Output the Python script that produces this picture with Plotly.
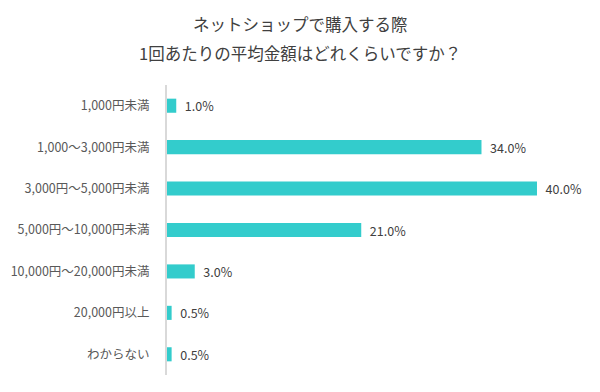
import plotly.graph_objects as go

categories = ["1,000円未満", "1,000〜3,000円未満", "3,000円〜5,000円未満",
              "5,000円〜10,000円未満", "10,000円〜20,000円未満", "20,000円以上", "わからない"]
values = [1.0, 34.0, 40.0, 21.0, 3.0, 0.5, 0.5]
title_lines = ["ネットショップで購入する際", "1回あたりの平均金額はどれくらいですか？"]

FONT = "Noto Sans CJK JP"
W, H = 600, 392
OFF = 8  # page body margin offset
L, R, T, B = 167 - OFF, 20 + OFF, 85 - OFF, 17 + OFF
ph = H - T - B
pw = W - L - R

fig = go.Figure(go.Bar(
    x=values, y=categories, orientation="h",
    marker=dict(color="#33CCCC", line=dict(width=0)),
    text=[f"{v:.1f}%" for v in values],
    texttemplate="  %{text}",
    textposition="outside",
    constraintext="none",
    textfont=dict(family=FONT, size=12.5, color="#404040"),
    cliponaxis=False,
    width=0.34,
))

title_y = [24 - OFF, 53 - OFF]
fig.update_layout(
    width=W, height=H,
    margin=dict(l=L, r=R, t=T, b=B, autoexpand=False),
    paper_bgcolor="white", plot_bgcolor="white",
    showlegend=False,
    font=dict(family=FONT),
    xaxis=dict(range=[0, 44.65], showgrid=False, zeroline=False,
               showticklabels=False, showline=False, automargin=False),
    yaxis=dict(autorange="reversed", showgrid=False, zeroline=False,
               showline=True, linecolor="#d9d9d9", linewidth=2,
               ticks="", ticklabelstandoff=13, automargin=False,
               tickfont=dict(family=FONT, size=12.5, color="#595959")),
    annotations=[
        dict(text=t, x=(W / 2 - OFF - L) / pw, xref="paper", xanchor="center",
             y=(H - B - py) / ph, yref="paper", yanchor="middle", showarrow=False,
             font=dict(family=FONT, size=16.5, color="#404040"))
        for t, py in zip(title_lines, title_y)
    ],
)

fig.write_html("out.html")
